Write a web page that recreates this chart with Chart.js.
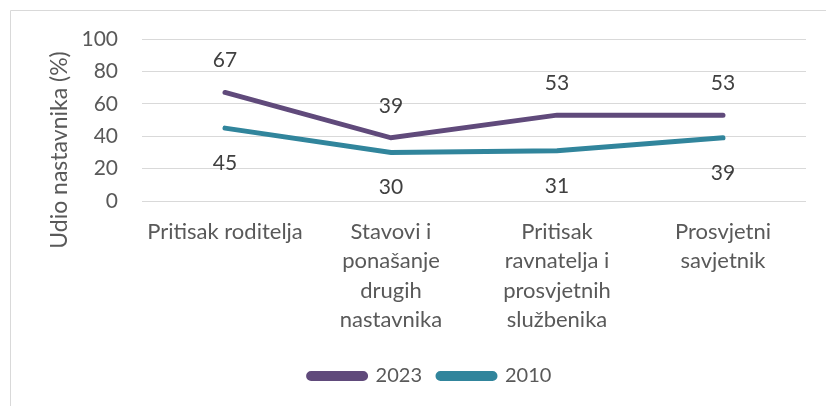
<!DOCTYPE html>
<html>
<head>
<meta charset="utf-8">
<script src="https://cdn.jsdelivr.net/npm/chart.js@4.4.1/dist/chart.umd.min.js"></script>
<style>
  html, body { margin: 0; padding: 0; background: #fff; overflow: hidden; }
  #wrap { width: 826px; height: 406px; }
</style>
</head>
<body>
<div id="wrap"><canvas id="myChart" width="826" height="406"></canvas></div>
<script>
const categories = [
  'Pritisak roditelja',
  ['Stavovi i', 'ponašanje', 'drugih', 'nastavnika'],
  ['Pritisak', 'ravnatelja i', 'prosvjetnih', 'službenika'],
  ['Prosvjetni', 'savjetnik'],
]
const values2023 = [67, 39, 53, 53]
const values2010 = [45, 30, 31, 39]
const yTicks = [0, 20, 40, 60, 80, 100]

const FONT = 'Lato'

// frame, y title and value labels
const extras = {
  id: 'extras',
  beforeDraw(chart) {
    const ctx = chart.ctx
    ctx.save()
    ctx.strokeStyle = '#d9d9d9'
    ctx.lineWidth = 1
    ctx.beginPath()
    ctx.moveTo(10.5, 406)
    ctx.lineTo(10.5, 10.5)
    ctx.lineTo(826, 10.5)
    ctx.stroke()
    ctx.restore()
  },
  afterDatasetsDraw(chart) {
    const ctx = chart.ctx
    ctx.save()
    ctx.font = '21px ' + FONT
    ctx.fillStyle = '#404040'
    ctx.textAlign = 'center'
    ctx.textBaseline = 'middle'
    chart.data.datasets.forEach((ds, i) => {
      const meta = chart.getDatasetMeta(i)
      meta.data.forEach((pt, j) => {
        const off = i === 0 ? -32 : 35
        ctx.fillText(ds.data[j], pt.x, pt.y + off)
      })
    })
    // y axis title
    ctx.translate(60, 150)
    ctx.rotate(-Math.PI / 2)
    ctx.font = '23px ' + FONT
    ctx.fillStyle = '#595959'
    ctx.fillText('Udio nastavnika (%)', 0, 0)
    ctx.restore()
  },
}

let ctx = document.getElementById('myChart').getContext('2d')

let chart = new Chart(ctx, {
  type: 'line',
  data: {
    labels: categories,
    datasets: [
      {
        label: '2023',
        data: values2023,
        borderColor: '#604a7b',
        backgroundColor: '#604a7b',
        borderWidth: 5,
        borderCapStyle: 'round',
        pointRadius: 0,
        pointHoverRadius: 0,
      },
      {
        label: '2010',
        data: values2010,
        borderColor: '#31859c',
        backgroundColor: '#31859c',
        borderWidth: 5,
        borderCapStyle: 'round',
        pointRadius: 0,
        pointHoverRadius: 0,
      },
    ],
  },
  options: {
    responsive: false,
    animation: false,
    layout: {
      padding: { left: 54, right: 20, top: 39, bottom: 10 },
    },
    plugins: {
      legend: {
        position: 'bottom',
        labels: {
          boxWidth: 57,
          boxHeight: 5,
          useBorderRadius: true,
          borderRadius: 2.5,
          padding: 16,
          color: '#595959',
          font: { family: FONT, size: 20 },
        },
      },
      tooltip: { enabled: false },
    },
    scales: {
      x: {
        offset: true,
        grid: { display: false },
        border: { display: false },
        ticks: {
          color: '#595959',
          font: { family: FONT, size: 22, lineHeight: 1.34 },
          padding: 8,
          maxRotation: 0,
          autoSkip: false,
        },
        afterFit(scale) {
          scale.height = 149
        },
      },
      y: {
        min: 0,
        max: 100,
        afterBuildTicks(scale) {
          scale.ticks = yTicks.map((v) => ({ value: v }))
        },
        grid: { color: '#d9d9d9', lineWidth: 1, drawTicks: false },
        border: { display: false },
        ticks: {
          color: '#595959',
          font: { family: FONT, size: 21 },
          padding: 24,
        },
        afterFit(scale) {
          scale.width = 88
        },
      },
    },
  },
  plugins: [extras],
})
</script>
</body>
</html>
